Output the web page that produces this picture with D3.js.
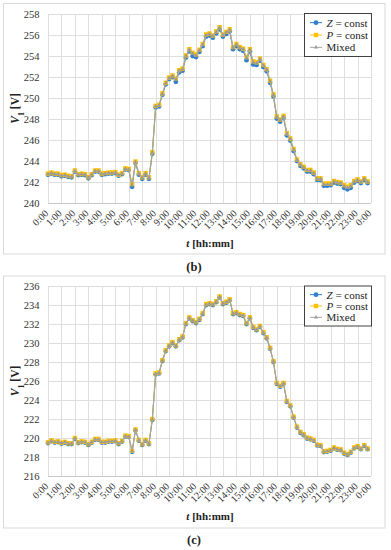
<!DOCTYPE html>
<html><head><meta charset="utf-8">
<script src="https://cdn.jsdelivr.net/npm/d3@7"></script>
<style>
html,body{margin:0;padding:0;background:#fff;}
svg{display:block;font-family:"Liberation Serif","Times New Roman",serif;}
</style></head>
<body><svg id="chart" width="391" height="550"></svg>
<script>
// ---------- DATA ----------
const timeLabels = ["0:00","1:00","2:00","3:00","4:00","5:00","6:00","7:00","8:00","9:00","10:00","11:00","12:00","13:00","14:00","15:00","16:00","17:00","18:00","19:00","20:00","21:00","22:00","23:00","0:00"];
const seriesNames = ["Z = const","P = const","Mixed"];

const yTicksB = [240,242,244,246,248,250,252,254,256,258];
const yTicksC = [216,218,220,222,224,226,228,230,232,234,236];

// panel (b), 15-minute samples
const zConstB = [
242.7,242.8,242.7,242.7,242.55,242.6,242.5,242.45,
243.0,242.65,242.7,242.65,242.35,242.65,243.0,243.0,
242.7,242.75,242.8,242.8,242.85,242.6,242.75,243.2,
243.15,241.55,243.8,242.7,242.3,242.7,242.3,244.7,
249.1,249.2,250.3,251.3,251.8,252.0,251.55,252.45,
252.6,253.85,254.45,254.0,253.9,254.4,254.95,255.85,
255.95,255.75,256.15,256.55,255.85,256.1,256.35,254.65,
254.95,254.65,254.5,253.6,254.45,253.2,253.15,253.55,
252.95,252.55,251.45,250.15,248.05,247.75,248.1,246.45,
245.95,244.95,244.0,243.55,243.3,243.0,243.0,242.75,
242.2,242.2,241.65,241.65,241.7,241.95,241.85,241.8,
241.45,241.3,241.45,241.95,242.1,241.9,242.2,241.9];
const pConstB = [
242.8,242.9,242.8,242.8,242.65,242.7,242.6,242.55,
243.1,242.75,242.8,242.75,242.45,242.75,243.1,243.1,
242.8,242.85,242.9,242.9,242.95,242.7,242.85,243.3,
243.25,241.8,243.95,242.85,242.45,242.85,242.45,244.85,
249.25,249.35,250.45,251.45,251.95,252.15,251.85,252.65,
252.8,254.05,254.65,254.3,254.15,254.6,255.15,256.05,
256.15,255.95,256.35,256.75,256.05,256.3,256.55,254.85,
255.15,254.85,254.7,253.9,254.65,253.5,253.4,253.75,
253.15,252.75,251.65,250.35,248.25,247.95,248.3,246.65,
246.15,245.15,244.15,243.7,243.45,243.15,243.15,242.9,
242.35,242.35,241.85,241.85,241.85,242.1,242.0,241.95,
241.7,241.55,241.7,242.1,242.25,242.05,242.35,242.05];
const mixedB = [
242.75,242.85,242.75,242.75,242.6,242.65,242.55,242.5,
243.05,242.7,242.75,242.7,242.4,242.7,243.05,243.05,
242.75,242.8,242.85,242.85,242.9,242.65,242.8,243.25,
243.2,241.7,243.9,242.8,242.4,242.8,242.4,244.8,
249.2,249.3,250.4,251.4,251.9,252.1,251.75,252.6,
252.75,254.0,254.6,254.2,254.05,254.55,255.1,256.0,
256.1,255.9,256.3,256.7,256.0,256.25,256.5,254.8,
255.1,254.8,254.65,253.8,254.6,253.4,253.3,253.7,
253.1,252.7,251.6,250.3,248.2,247.9,248.25,246.6,
246.1,245.1,244.1,243.65,243.4,243.1,243.1,242.85,
242.3,242.3,241.75,241.75,241.8,242.05,241.95,241.9,
241.6,241.45,241.6,242.05,242.2,242.0,242.3,242.0];

// panel (c)
const zConstC = [
219.47,219.67,219.52,219.57,219.42,219.52,219.37,219.37,
219.92,219.47,219.57,219.52,219.27,219.52,219.82,219.82,
219.52,219.52,219.62,219.62,219.67,219.37,219.62,220.17,
220.12,218.55,220.8,219.72,219.27,219.72,219.37,221.9,
226.7,226.8,228.1,229.15,229.65,230.0,229.65,230.3,
230.6,232.0,232.6,232.3,232.1,232.45,233.05,234.0,
234.1,234.0,234.3,234.8,234.1,234.25,234.5,233.05,
233.15,232.95,232.85,232.0,232.6,231.6,231.35,231.7,
231.05,230.5,229.4,228.0,225.7,225.4,225.7,223.8,
223.35,222.15,221.1,220.55,220.3,219.95,219.87,219.72,
219.22,219.17,218.52,218.57,218.67,218.92,218.77,218.72,
218.37,218.22,218.47,218.92,219.07,218.82,219.17,218.82];
const pConstC = [
219.55,219.75,219.6,219.65,219.5,219.6,219.45,219.45,
220.0,219.55,219.65,219.6,219.35,219.6,219.9,219.9,
219.6,219.6,219.7,219.7,219.75,219.45,219.7,220.25,
220.2,218.65,220.9,219.8,219.35,219.8,219.45,222.0,
226.8,226.9,228.2,229.25,229.75,230.1,229.75,230.4,
230.7,232.1,232.7,232.4,232.2,232.55,233.15,234.1,
234.2,234.1,234.4,234.9,234.2,234.35,234.6,233.15,
233.25,233.05,232.95,232.1,232.7,231.7,231.45,231.8,
231.15,230.6,229.5,228.1,225.8,225.5,225.8,223.9,
223.45,222.25,221.2,220.65,220.4,220.05,219.95,219.8,
219.3,219.25,218.6,218.65,218.75,219.0,218.85,218.8,
218.45,218.3,218.55,219.0,219.15,218.9,219.25,218.9];
const mixedC = [
219.51,219.71,219.56,219.61,219.46,219.56,219.41,219.41,
219.96,219.51,219.61,219.56,219.31,219.56,219.86,219.86,
219.56,219.56,219.66,219.66,219.71,219.41,219.66,220.21,
220.16,218.6,220.85,219.76,219.31,219.76,219.41,221.95,
226.75,226.85,228.15,229.2,229.7,230.05,229.7,230.35,
230.65,232.05,232.65,232.35,232.15,232.5,233.1,234.05,
234.15,234.05,234.35,234.85,234.15,234.3,234.55,233.1,
233.2,233.0,232.9,232.05,232.65,231.65,231.4,231.75,
231.1,230.55,229.45,228.05,225.75,225.45,225.75,223.85,
223.4,222.2,221.15,220.6,220.35,220.0,219.91,219.76,
219.26,219.21,218.56,218.61,218.71,218.96,218.81,218.76,
218.41,218.26,218.51,218.96,219.11,218.86,219.21,218.86];

// ---------- LAYOUT / STYLE ----------
const colors = ["#2E7FD0","#FFC000","#A5A5A5"];
const svg = d3.select("#chart");

function drawPanel(cfg){
  const g = svg.append("g");
  const {top, bottom, frameTop, frameBottom, yTicks, series, label, legendTop, legendH} = cfg;
  const left = 48, right = 371;

  g.append("rect").attr("x",3.5).attr("y",frameTop).attr("width",381.5).attr("height",frameBottom-frameTop)
    .attr("fill","#fff").attr("stroke","#d9d9d9").attr("stroke-width",1);

  const x = d3.scaleLinear().domain([0,96]).range([left,right]);
  const y = d3.scaleLinear().domain([d3.min(yTicks), d3.max(yTicks)]).range([bottom, top]);
  const hourTicks = d3.range(0,97,4);

  // grid
  g.append("g").selectAll("line").data(yTicks).join("line")
    .attr("x1",left).attr("x2",right).attr("y1",d=>Math.round(y(d))+0.5).attr("y2",d=>Math.round(y(d))+0.5)
    .attr("stroke",(d,i)=> i===0 ? "#c8c8c8" : "#dedede").attr("stroke-width",1);
  g.append("g").selectAll("line").data(hourTicks).join("line")
    .attr("x1",d=>Math.round(x(d))+0.5).attr("x2",d=>Math.round(x(d))+0.5).attr("y1",top).attr("y2",bottom)
    .attr("stroke","#dedede").attr("stroke-width",1);

  // y tick labels
  g.append("g").selectAll("text").data(yTicks).join("text")
    .attr("x",39.5).attr("y",d=>y(d)).attr("dy","0.35em").attr("text-anchor","end")
    .attr("font-size","10.5px").attr("fill","#333").text(d=>d);

  // x tick labels
  g.append("g").selectAll("text").data(hourTicks).join("text")
    .attr("transform",d=>`translate(${x(d)+1},${bottom+11}) rotate(-45)`)
    .attr("text-anchor","end").attr("font-size","10px").attr("fill","#333")
    .text((d,i)=>timeLabels[i]);

  // series
  const line = d3.line().x((d,i)=>x(i)).y(d=>y(d));
  series.forEach((vals,k)=>{
    g.append("path").datum(vals).attr("d",line).attr("fill","none")
      .attr("stroke",colors[k]).attr("stroke-width",k===2?1.1:1);
    const m = g.append("g");
    if(k===0){
      m.selectAll("circle").data(vals).join("circle")
        .attr("cx",(d,i)=>x(i)).attr("cy",d=>y(d)).attr("r",2.4).attr("fill",colors[0]);
    } else if(k===1){
      m.selectAll("rect").data(vals).join("rect")
        .attr("x",(d,i)=>x(i)-2.2).attr("y",d=>y(d)-2.2).attr("width",4.4).attr("height",4.4).attr("fill",colors[1]);
    } else {
      const tri = d3.symbol().type(d3.symbolTriangle).size(7);
      m.selectAll("path").data(vals).join("path")
        .attr("transform",(d,i)=>`translate(${x(i)},${y(d)})`).attr("d",tri).attr("fill","#9a9a9a");
    }
  });

  // axis titles
  const yt = g.append("text").attr("transform",`translate(19,${(top+bottom)/2}) rotate(-90)`)
    .attr("text-anchor","middle").attr("font-size","11.5px").attr("font-weight","bold").attr("fill","#222");
  yt.append("tspan").attr("font-style","italic").text("V");
  yt.append("tspan").attr("baseline-shift","sub").attr("font-size","8px").text("1");
  yt.append("tspan").text(" [V]");

  const xt = g.append("text").attr("x",210).attr("y",bottom+44).attr("text-anchor","middle")
    .attr("font-size","11px").attr("font-weight","bold").attr("fill","#222");
  xt.append("tspan").attr("font-style","italic").text("t");
  xt.append("tspan").text(" [hh:mm]");

  // legend
  const lg = g.append("g");
  lg.append("rect").attr("x",304.5).attr("y",legendTop+0.5).attr("width",67).attr("height",legendH)
    .attr("fill","#fff").attr("stroke","#404040").attr("stroke-width",1);
  const rowH = (legendH-6)/3;
  seriesNames.forEach((name,k)=>{
    const cy = legendTop + 3.5 + rowH*(k+0.5);
    lg.append("line").attr("x1",310).attr("x2",322).attr("y1",cy).attr("y2",cy)
      .attr("stroke",colors[k]).attr("stroke-width",1);
    if(k===0) lg.append("circle").attr("cx",316).attr("cy",cy).attr("r",2.4).attr("fill",colors[0]);
    else if(k===1) lg.append("rect").attr("x",313.8).attr("y",cy-2.2).attr("width",4.4).attr("height",4.4).attr("fill",colors[1]);
    else lg.append("path").attr("transform",`translate(316,${cy})`).attr("d",d3.symbol().type(d3.symbolTriangle).size(7)).attr("fill","#9a9a9a");
    const t = lg.append("text").attr("x",326.5).attr("y",cy).attr("dy","0.35em")
      .attr("font-size","11px").attr("fill","#222");
    if(k<2){
      t.append("tspan").attr("font-style","italic").text(name.charAt(0));
      t.append("tspan").text(name.slice(1));
    } else t.text(name);
  });

  // panel label
  svg.append("text").attr("x",194).attr("y",cfg.labelY).attr("dy","0.35em").attr("text-anchor","middle")
    .attr("font-size","12.5px").attr("font-weight","bold").attr("fill","#222").text(label);
}

drawPanel({top:14, bottom:203, frameTop:3.5, frameBottom:254, yTicks:yTicksB,
  series:[zConstB,pConstB,mixedB], label:"(b)", labelY:267, legendTop:13, legendH:43});
drawPanel({top:286, bottom:476, frameTop:276, frameBottom:528, yTicks:yTicksC,
  series:[zConstC,pConstC,mixedC], label:"(c)", labelY:540, legendTop:285.5, legendH:40});
</script>
</body></html>
